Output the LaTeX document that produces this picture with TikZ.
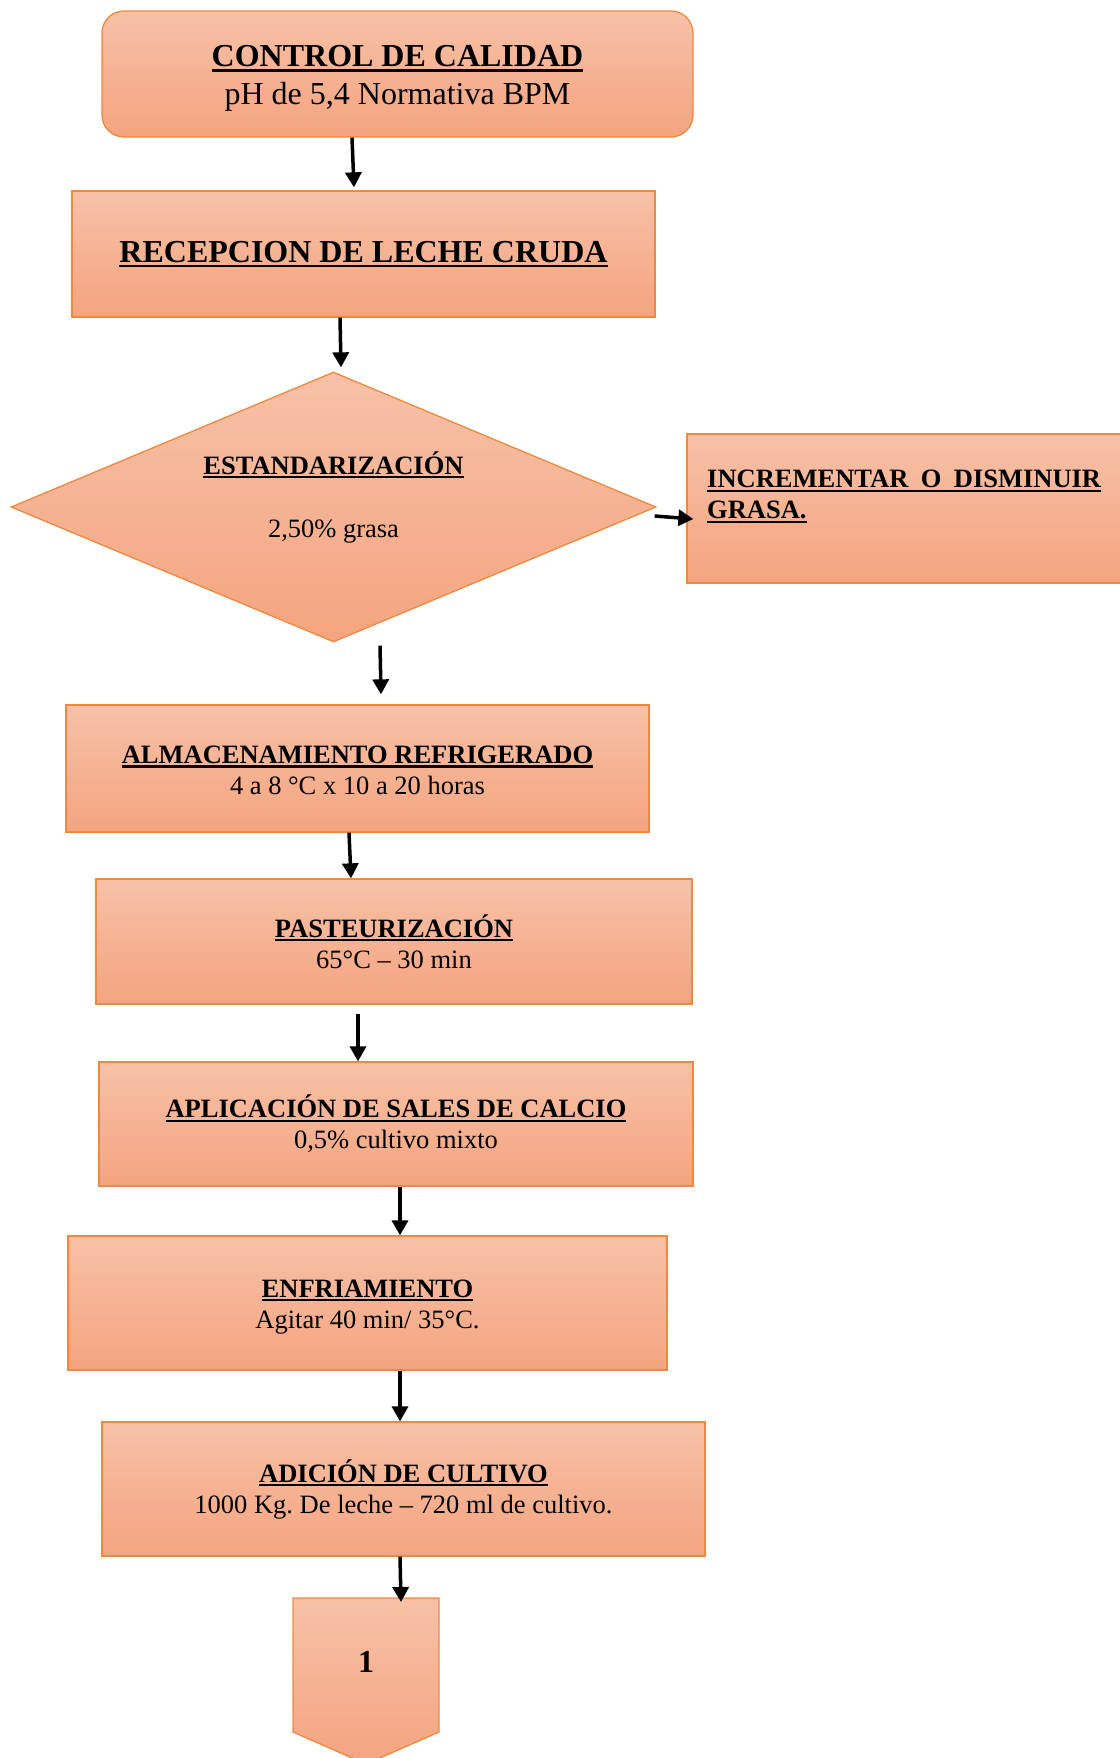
\documentclass[tikz,border=0pt]{standalone}
\usepackage{fontspec}
\setmainfont{Liberation Serif}
\usetikzlibrary{shapes.geometric,arrows.meta,calc}
\definecolor{ctop}{HTML}{F7C1A7}
\definecolor{cbot}{HTML}{F4A47F}
\definecolor{cedge}{HTML}{F0883F}
\newsavebox\ulbox
\newcommand\myul[1]{\sbox\ulbox{#1}\rlap{\rule[-0.16em]{\wd\ulbox}{0.08em}}\usebox\ulbox}
\frenchspacing
\tikzset{
  box/.style={draw=cedge, line width=1.3pt, top color=ctop, bottom color=cbot,
    inner sep=0pt, align=center, font=\fontsize{26.5}{31}\selectfont},
  txt/.style={inner sep=0pt, font=\fontsize{26.5}{31}\selectfont},
  arr/.style={line width=3.5pt, -{Triangle[length=15pt,width=16pt]}}
}
\begin{document}
\begin{tikzpicture}[x=1pt,y=-1pt]
\useasboundingbox (0,0) rectangle (1119,1758);

\node[box, rounded corners=22pt, minimum width=591pt, minimum height=126pt,
  font=\fontsize{32}{38}\selectfont] (b1) at (397.5,74)
  {\rule{0pt}{30pt}\myul{\textbf{CONTROL DE CALIDAD}}\\pH de 5,4 Normativa BPM};

\node[box, minimum width=583pt, minimum height=126pt,
  font=\fontsize{32}{38}\selectfont] (b2) at (363.5,254)
  {\myul{\textbf{RECEPCION DE LECHE CRUDA}}};

\node[box, shape=diamond, minimum width=645pt, minimum height=270pt] (dia) at (333.5,507) {};
\node[txt, align=center] (dtxt) at (333.5,497)
  {\myul{\textbf{ESTANDARIZACIÓN}}\\[32pt]2,50\% grasa};

\node[box, minimum width=438pt, minimum height=149pt] (inc) at (906,508.5) {};
\node[txt, align=left, anchor=north west] (inctxt) at (707,470)
  {\myul{\textbf{\makebox[394pt][s]{INCREMENTAR O DISMINUIR}}}\\\myul{\textbf{GRASA.}}};

\node[box, minimum width=583pt, minimum height=127pt] (b3) at (357.5,768.5)
  {\rule{0pt}{21pt}\myul{\textbf{ALMACENAMIENTO REFRIGERADO}}\\4 a 8 °C x 10 a 20 horas};

\node[box, minimum width=596pt, minimum height=125pt] (b4) at (394,941.5)
  {\myul{\textbf{PASTEURIZACIÓN}}\\65°C – 30 min};

\node[box, minimum width=594pt, minimum height=124pt] (b5) at (396,1124)
  {\rule{0pt}{22pt}\myul{\textbf{APLICACIÓN DE SALES DE CALCIO}}\\0,5\% cultivo mixto};

\node[box, minimum width=599pt, minimum height=134pt] (b6) at (367.5,1303)
  {\rule{0pt}{25pt}\myul{\textbf{ENFRIAMIENTO}}\\Agitar 40 min/ 35°C.};

\node[box, minimum width=603pt, minimum height=134pt] (b7) at (403.5,1489)
  {\myul{\textbf{ADICIÓN DE CULTIVO}}\\1000 Kg. De leche – 720 ml de cultivo.};

\draw[draw=cedge, line width=1.3pt, top color=ctop, bottom color=cbot]
  (293,1598) -- (439,1598) -- (439,1732) -- (366,1764) -- (293,1732) -- cycle;
\coordinate (ptop) at (366,1598);
\node[txt, font=\fontsize{32}{38}\selectfont\bfseries] (one) at (366,1662) {1};

\draw[arr] ([xshift=-45.5pt]b1.south) -- ([xshift=-9.5pt,yshift=3pt]b2.north);
\draw[arr] ([xshift=-23.5pt]b2.south) -- ([xshift=7.5pt,yshift=4pt]dia.north);
\draw[arr] ([xshift=-2pt,yshift=-9pt]dia.east) -- ([xshift=7pt,yshift=-10.5pt]inc.west);
\draw[arr] ([xshift=46.5pt,yshift=-3pt]dia.south) -- ([xshift=23.5pt,yshift=10pt]b3.north);
\draw[arr] ([xshift=-8.5pt]b3.south) -- ([xshift=-43pt]b4.north);
\draw[arr] ([xshift=-36pt,yshift=-9pt]b4.south) -- ([xshift=-38pt]b5.north);
\draw[arr] ([xshift=4pt]b5.south) -- ([xshift=32.5pt]b6.north);
\draw[arr] ([xshift=32.5pt]b6.south) -- ([xshift=-3.5pt]b7.north);
\draw[arr] ([xshift=-3.5pt]b7.south) -- ([xshift=35pt,yshift=-4pt]ptop);
\end{tikzpicture}
\end{document}
